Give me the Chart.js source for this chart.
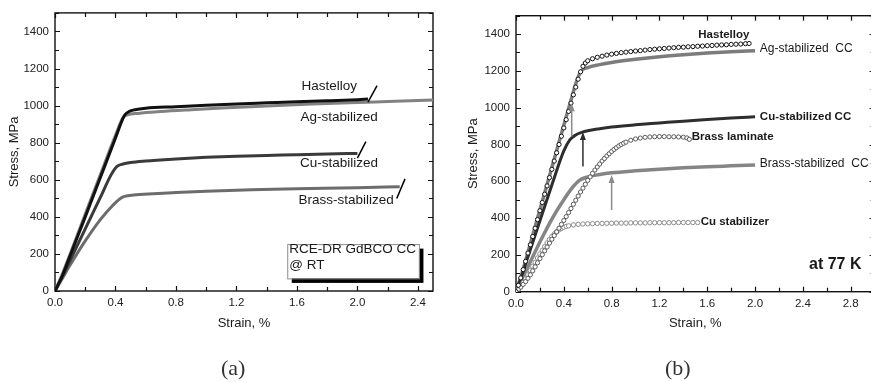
<!DOCTYPE html>
<html>
<head>
<meta charset="utf-8">
<script src="https://cdn.jsdelivr.net/npm/chart.js@4.4.1/dist/chart.umd.min.js"></script>
<style>
  html, body { margin: 0; padding: 0; background: #fff; width: 871px; height: 382px; overflow: hidden; }
  .panel { position: absolute; top: 0; width: 440px; height: 382px; }
  #panelA { left: 0; }
  #panelB { left: 440px; }
  .tag { position: absolute; font-family: "Liberation Serif", "DejaVu Serif", serif; font-size: 22px; color: #333; line-height: 1; }
</style>
</head>
<body>
<div class="panel" id="panelA"><canvas id="chartA" width="440" height="382"></canvas></div>
<div class="panel" id="panelB"><canvas id="chartB" width="440" height="382"></canvas></div>
<div class="tag" style="left:221px; top:357px;">(a)</div>
<div class="tag" style="left:665px; top:357px;">(b)</div>

<script>
// --- (a) RCE-DR GdBCO CC @ RT ---
const hastA_strain = [0, 0.05, 0.1, 0.2, 0.3, 0.4, 0.46, 0.49, 0.53, 0.6, 0.8, 1.0, 1.2, 1.4, 1.6, 1.8, 2.0, 2.07];
const hastA_stress = [0, 85, 190, 400, 612, 825, 948, 968, 978, 986, 994, 1002, 1009, 1015, 1021, 1026, 1032, 1035];

const agA_strain = [0, 0.05, 0.1, 0.2, 0.3, 0.4, 0.45, 0.48, 0.55, 0.7, 0.9, 1.1, 1.4, 1.7, 2.0, 2.2, 2.5];
const agA_stress = [0, 95, 200, 415, 628, 840, 935, 950, 958, 968, 978, 987, 998, 1008, 1017, 1022, 1030];

const cuA_strain = [0, 0.05, 0.1, 0.2, 0.3, 0.37, 0.41, 0.45, 0.5, 0.6, 0.8, 1.0, 1.2, 1.4, 1.6, 1.8, 2.0];
const cuA_stress = [0, 80, 165, 335, 505, 625, 672, 685, 693, 701, 712, 721, 727, 731, 735, 739, 742];

const brassA_strain = [0, 0.05, 0.1, 0.2, 0.3, 0.38, 0.43, 0.46, 0.52, 0.65, 0.8, 1.0, 1.3, 1.6, 2.0, 2.28];
const brassA_stress = [0, 70, 140, 270, 385, 460, 498, 510, 518, 525, 531, 538, 546, 551, 557, 562];

// fracture marks "/"
const hastBreak_strain = [2.07, 2.13];
const hastBreak_stress = [1019, 1108];
const cuBreak_strain = [2.0, 2.056];
const cuBreak_stress = [717, 806];
const brassBreak_strain = [2.26, 2.315];
const brassBreak_stress = [499, 605];

const xTicksA = [0, 0.4, 0.8, 1.2, 1.6, 2.0, 2.4];
const xMinorA = [0.2, 0.6, 1.0, 1.4, 1.8, 2.2];

// --- (b) at 77 K ---
const hastB_strain = [0, 0.02, 0.04, 0.06, 0.08, 0.10, 0.12, 0.14, 0.16, 0.18, 0.20, 0.22, 0.24, 0.26, 0.28, 0.30, 0.32, 0.34, 0.36, 0.38, 0.40, 0.42, 0.44, 0.46, 0.48, 0.50, 0.52, 0.54, 0.56, 0.58, 0.60, 0.64, 0.68, 0.72, 0.76, 0.80, 0.84, 0.88, 0.92, 0.96, 1.00, 1.04, 1.08, 1.12, 1.16, 1.20, 1.24, 1.28, 1.32, 1.36, 1.40, 1.44, 1.48, 1.52, 1.56, 1.60, 1.64, 1.68, 1.72, 1.76, 1.80, 1.84, 1.88, 1.92, 1.95];
const hastB_stress = [0, 35, 75, 120, 165, 210, 255, 300, 345, 392, 440, 485, 530, 575, 620, 665, 710, 755, 800, 845, 890, 935, 980, 1025, 1070, 1112, 1155, 1195, 1225, 1243, 1255, 1266, 1274, 1280, 1286, 1291, 1295, 1299, 1302, 1305, 1308, 1310, 1313, 1316, 1318, 1320, 1322, 1324, 1326, 1328, 1329, 1331, 1332, 1334, 1335, 1337, 1338, 1340, 1341, 1342, 1344, 1345, 1346, 1348, 1349];

const agB_strain = [0, 0.05, 0.1, 0.2, 0.3, 0.4, 0.46, 0.5, 0.54, 0.6, 0.7, 0.8, 1.0, 1.2, 1.4, 1.6, 1.8, 2.0];
const agB_stress = [0, 100, 215, 445, 675, 905, 1040, 1130, 1195, 1218, 1234, 1246, 1263, 1277, 1288, 1297, 1304, 1310];

const cuB_strain = [0, 0.05, 0.1, 0.2, 0.3, 0.4, 0.45, 0.5, 0.55, 0.6, 0.7, 0.8, 1.0, 1.2, 1.4, 1.6, 1.8, 2.0];
const cuB_stress = [0, 90, 190, 385, 580, 765, 825, 852, 866, 875, 886, 895, 907, 917, 927, 936, 944, 951];

const brassCcB_strain = [0, 0.05, 0.1, 0.2, 0.3, 0.4, 0.48, 0.53, 0.6, 0.7, 0.8, 1.0, 1.2, 1.4, 1.6, 1.8, 2.0];
const brassCcB_stress = [0, 65, 135, 270, 395, 500, 572, 605, 624, 637, 646, 657, 666, 673, 679, 684, 689];

const lamB_strain = [0, 0.02, 0.04, 0.06, 0.08, 0.10, 0.12, 0.14, 0.16, 0.18, 0.20, 0.22, 0.24, 0.26, 0.28, 0.30, 0.32, 0.34, 0.36, 0.38, 0.40, 0.42, 0.44, 0.46, 0.48, 0.50, 0.52, 0.54, 0.56, 0.58, 0.60, 0.62, 0.64, 0.66, 0.68, 0.70, 0.72, 0.74, 0.76, 0.78, 0.80, 0.82, 0.84, 0.86, 0.88, 0.90, 0.92, 0.96, 1.00, 1.04, 1.08, 1.12, 1.16, 1.20, 1.24, 1.28, 1.32, 1.36, 1.40, 1.43, 1.45];
const lamB_stress = [0, 12, 25, 40, 55, 73, 92, 113, 135, 157, 180, 201, 222, 243, 264, 285, 305, 325, 345, 366, 387, 408, 430, 452, 475, 497, 520, 542, 563, 584, 605, 624, 643, 661, 678, 694, 710, 724, 738, 750, 762, 773, 783, 792, 800, 807, 813, 823, 830, 835, 839, 841, 842, 843, 843, 842, 842, 841, 840, 836, 828];

const cuStabB_strain = [0, 0.02, 0.04, 0.06, 0.08, 0.10, 0.12, 0.14, 0.16, 0.18, 0.20, 0.22, 0.24, 0.26, 0.28, 0.30, 0.32, 0.34, 0.36, 0.38, 0.40, 0.42, 0.44, 0.48, 0.52, 0.56, 0.60, 0.64, 0.68, 0.72, 0.76, 0.80, 0.84, 0.88, 0.92, 0.96, 1.00, 1.04, 1.08, 1.12, 1.16, 1.20, 1.24, 1.28, 1.32, 1.36, 1.40, 1.44, 1.48, 1.52];
const cuStabB_stress = [0, 14, 30, 50, 70, 92, 115, 138, 160, 183, 205, 225, 245, 265, 283, 300, 314, 326, 336, 344, 350, 355, 358, 363, 366, 368, 369, 370, 371, 371, 372, 372, 373, 373, 373, 374, 374, 374, 374, 375, 375, 375, 375, 375, 375, 376, 376, 376, 376, 376];

// vertical arrows pointing at the yield knees
const arrowStrain = [0.466, 0.56, 0.8];
const arrowFrom = [843, 680, 444];
const arrowTo = [1024, 868, 634];
const arrowColor = ['#8a8a8a', '#2e2e2e', '#8a8a8a'];

const xTicksB = [0, 0.4, 0.8, 1.2, 1.6, 2.0, 2.4, 2.8];
const xMinorB = [0.2, 0.6, 1.0, 1.4, 1.8, 2.2, 2.6];

const yTicks = [0, 200, 400, 600, 800, 1000, 1200, 1400];
const yMinor = [100, 300, 500, 700, 900, 1100, 1300, 1500];

Chart.defaults.font.family = '"Liberation Sans", Arial, sans-serif';
Chart.defaults.color = '#222';

function pts(xs, ys) {
    return xs.map((v, i) => ({ x: v, y: ys[i] }));
}

function lineSet(xs, ys, color, width, order) {
    return { data: pts(xs, ys), borderColor: color, borderWidth: width, pointRadius: 0,
             cubicInterpolationMode: 'monotone', fill: false, order: order };
}

function breakSet(xs, ys) {
    return { data: pts(xs, ys), borderColor: '#000', borderWidth: 1.5, pointRadius: 0, tension: 0, order: 0 };
}

function circleSet(xs, ys, color, radius, order) {
    return { data: pts(xs, ys), showLine: false, pointStyle: 'circle', pointRadius: radius,
             pointBorderColor: color, pointBackgroundColor: '#fff', pointBorderWidth: 1, order: order };
}

// frame + inward ticks on all four sides (Origin style)
const frameTicks = {
    id: 'frameTicks',
    beforeDatasetsDraw(chart, args, o) {
        const { ctx, chartArea: a, scales: { x, y } } = chart;
        ctx.save();
        ctx.strokeStyle = '#111';
        ctx.lineWidth = 1.2;
        ctx.beginPath();
        const xt = (vals, len) => vals.forEach(v => {
            const px = Math.round(x.getPixelForValue(v)) + 0.5;
            ctx.moveTo(px, a.bottom); ctx.lineTo(px, a.bottom - len);
            ctx.moveTo(px, a.top); ctx.lineTo(px, a.top + len);
        });
        const yt = (vals, len) => vals.forEach(v => {
            const py = Math.round(y.getPixelForValue(v)) + 0.5;
            ctx.moveTo(a.left, py); ctx.lineTo(a.left + len, py);
            ctx.moveTo(a.right, py); ctx.lineTo(a.right - len, py);
        });
        xt(o.xMajor, 5); xt(o.xMinor, 4);
        yt(yTicks, 5); yt(yMinor, 4);
        ctx.stroke();
        ctx.lineWidth = 1.4;
        ctx.strokeRect(a.left, a.top, a.right - a.left, a.bottom - a.top);
        ctx.restore();
    }
};

function makeNotes(labels, extra) {
    return {
        id: 'notes',
        afterDatasetsDraw(chart) {
            const { ctx, scales: { x, y } } = chart;
            ctx.save();
            if (extra) extra(ctx, x, y);
            labels.forEach(l => {
                ctx.font = l.font;
                ctx.fillStyle = '#1a1a1a';
                ctx.textAlign = l.align || 'left';
                ctx.textBaseline = 'middle';
                ctx.fillText(l.text, x.getPixelForValue(l.x), y.getPixelForValue(l.y));
            });
            ctx.restore();
        }
    };
}

function axes(xMax, xTicks, yWidth, xHeight, yTitlePad) {
    return {
        x: {
            type: 'linear', min: 0, max: xMax,
            grid: { display: false, drawTicks: false }, border: { display: false },
            afterBuildTicks: s => { s.ticks = xTicks.map(v => ({ value: v })); },
            afterFit: s => { s.height = xHeight; },
            ticks: { padding: 5, font: { size: 11.5 }, color: '#222', callback: v => v.toFixed(1) },
            title: { display: true, text: 'Strain, %', font: { size: 13 }, color: '#1a1a1a', padding: { top: 0, bottom: 51 } }
        },
        y: {
            type: 'linear', min: 0, max: 1500,
            grid: { display: false, drawTicks: false }, border: { display: false },
            afterBuildTicks: s => { s.ticks = yTicks.map(v => ({ value: v })); },
            afterFit: s => { s.width = yWidth; },
            ticks: { padding: 6, font: { size: 11.5 }, color: '#222', callback: v => String(v) },
            title: { display: true, text: 'Stress, MPa', font: { size: 13 }, color: '#1a1a1a', padding: { top: yTitlePad, bottom: 0 } }
        }
    };
}

// ---------- panel (a) ----------
const labelsA = [
    { text: 'Hastelloy', x: 1.63, y: 1103, font: '13.5px "Liberation Sans", Arial' },
    { text: 'Ag-stabilized', x: 1.624, y: 938, font: '13.5px "Liberation Sans", Arial' },
    { text: 'Cu-stabilized', x: 1.62, y: 687, font: '13.5px "Liberation Sans", Arial' },
    { text: 'Brass-stabilized', x: 1.61, y: 490, font: '13.5px "Liberation Sans", Arial' },
    { text: 'RCE-DR GdBCO CC', x: 1.55, y: 225, font: '13.5px "Liberation Sans", Arial' },
    { text: '@ RT', x: 1.55, y: 140, font: '13.5px "Liberation Sans", Arial' }
];

function drawBoxA(ctx, x, y) {
    const l = x.getPixelForValue(1.536), r = x.getPixelForValue(2.407);
    const t = y.getPixelForValue(253), b = y.getPixelForValue(68);
    ctx.fillStyle = '#000';
    ctx.fillRect(l + 4.5, t + 4.5, r - l, b - t);
    ctx.fillStyle = '#fff';
    ctx.fillRect(l, t, r - l, b - t);
    ctx.strokeStyle = '#8c8c8c';
    ctx.lineWidth = 1;
    ctx.strokeRect(l + 0.5, t + 0.5, r - l, b - t);
}

new Chart(document.getElementById('chartA'), {
    type: 'line',
    data: {
        datasets: [
            lineSet(hastA_strain, hastA_stress, '#111111', 3, 1),
            lineSet(agA_strain, agA_stress, '#828282', 3, 2),
            lineSet(cuA_strain, cuA_stress, '#3a3a3a', 3, 3),
            lineSet(brassA_strain, brassA_stress, '#6c6c6c', 3, 4),
            breakSet(hastBreak_strain, hastBreak_stress),
            breakSet(cuBreak_strain, cuBreak_stress),
            breakSet(brassBreak_strain, brassBreak_stress)
        ]
    },
    options: {
        responsive: false, animation: false, devicePixelRatio: 1,
        layout: { padding: { left: 0, top: 11, right: 7, bottom: 0 } },
        plugins: { legend: { display: false }, tooltip: { enabled: false },
                   frameTicks: { xMajor: xTicksA, xMinor: xMinorA } },
        scales: axes(2.5, xTicksA, 55, 91, 7)
    },
    plugins: [frameTicks, makeNotes(labelsA, drawBoxA)]
});

// ---------- panel (b) ----------
const labelsB = [
    { text: 'Hastelloy', x: 1.525, y: 1395, font: 'bold 11.5px "Liberation Sans", Arial' },
    { text: 'Ag-stabilized  CC', x: 2.04, y: 1319, font: '12px "Liberation Sans", Arial' },
    { text: 'Cu-stabilized CC', x: 2.04, y: 949, font: 'bold 11.5px "Liberation Sans", Arial' },
    { text: 'Brass laminate', x: 1.47, y: 841, font: 'bold 11.5px "Liberation Sans", Arial' },
    { text: 'Brass-stabilized  CC', x: 2.04, y: 694, font: '12px "Liberation Sans", Arial' },
    { text: 'Cu stabilizer', x: 1.545, y: 379, font: 'bold 11.5px "Liberation Sans", Arial' },
    { text: 'at 77 K', x: 2.89, y: 150, font: 'bold 16px "Liberation Sans", Arial', align: 'right' }
];

function drawArrowsB(ctx, x, y) {
    arrowStrain.forEach((s, i) => {
        const px = x.getPixelForValue(s);
        const y0 = y.getPixelForValue(arrowFrom[i]);
        const y1 = y.getPixelForValue(arrowTo[i]);
        ctx.strokeStyle = arrowColor[i];
        ctx.fillStyle = arrowColor[i];
        ctx.lineWidth = 1.5;
        ctx.beginPath();
        ctx.moveTo(px, y0); ctx.lineTo(px, y1 + 5);
        ctx.stroke();
        ctx.beginPath();
        ctx.moveTo(px, y1); ctx.lineTo(px - 3, y1 + 8); ctx.lineTo(px + 3, y1 + 8);
        ctx.closePath();
        ctx.fill();
    });
}

new Chart(document.getElementById('chartB'), {
    type: 'line',
    data: {
        datasets: [
            circleSet(hastB_strain, hastB_stress, '#111111', 2.1, 0),
            lineSet(agB_strain, agB_stress, '#7c7c7c', 3.5, 3),
            lineSet(cuB_strain, cuB_stress, '#2e2e2e', 3, 2),
            lineSet(brassCcB_strain, brassCcB_stress, '#858585', 3.5, 4),
            circleSet(lamB_strain, lamB_stress, '#5a5a5a', 2.1, 1),
            circleSet(cuStabB_strain, cuStabB_stress, '#8c8c8c', 2.2, 1)
        ]
    },
    options: {
        responsive: false, animation: false, devicePixelRatio: 1,
        layout: { padding: { left: 0, top: 15.7, right: 5.4, bottom: 0 } },
        plugins: { legend: { display: false }, tooltip: { enabled: false },
                   frameTicks: { xMajor: xTicksB, xMinor: xMinorB } },
        scales: axes(3.0, xTicksB, 76, 90.3, 26)
    },
    plugins: [frameTicks, makeNotes(labelsB, drawArrowsB)]
});
</script>
</body>
</html>
